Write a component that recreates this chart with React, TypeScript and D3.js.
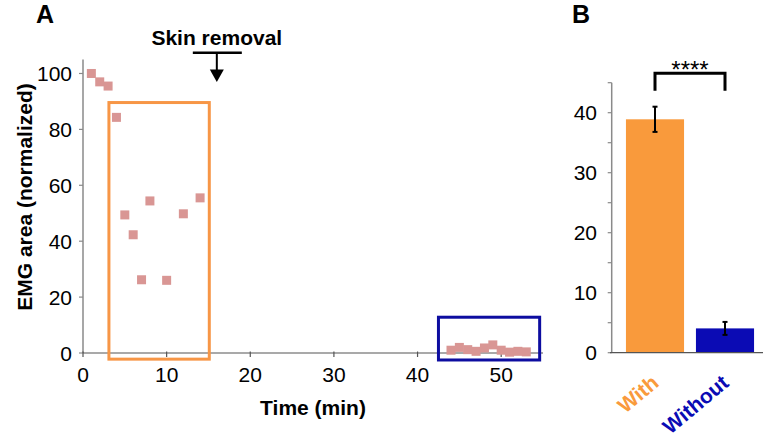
import React from "react";
import * as d3 from "d3";

const timeMin = [1, 2, 3, 4, 5, 6, 7, 8, 10, 12, 14, 44, 45, 46, 47, 48, 49, 50, 51, 52, 53];
const emgArea = [100, 97, 95.5, 84.3, 49.4, 42.3, 26.2, 54.4, 26, 49.8, 55.5, 1, 2, 1.2, 0.6, 1.8, 2.9, 1, 0.3, 0.6, 0.4];
const xTicksA = [0, 10, 20, 30, 40, 50];
const yTicksA = [0, 20, 40, 60, 80, 100];

const barCategories = ["With", "Without"];
const barMeans = [38.9, 4.05];
const barErrors = [2.1, 1.08];
const barColors = ["#F99A3C", "#0B0BB4"];
const yTicksB = [0, 10, 20, 30, 40];
const yMinorB = [0, 5, 10, 15, 20, 25, 30, 35, 40, 45];

const skinRemovalTime = 16;
const withWindow = { t0: 3.1, t1: 15.1, v0: -2.2, v1: 89.6 };
const withoutWindow = { t0: 42.5, t1: 54.6, v0: -2.5, v1: 12.8 };

const FONT = "'Liberation Sans', Arial, sans-serif";

export default function App() {
  const xA = d3.scaleLinear().domain([0, 55]).range([83, 543]);
  const yA = d3.scaleLinear().domain([0, 105]).range([353, 59.5]);
  const xB = d3
    .scaleBand<string>()
    .domain(barCategories)
    .range([620, 760])
    .paddingInner(0.17)
    .paddingOuter(0.085);
  const yB = d3.scaleLinear().domain([0, 45]).range([352.7, 82.7]);
  const sq = 9;
  const sx = xA(skinRemovalTime);

  return (
    <svg width={769} height={440} style={{ position: "absolute", left: 0, top: 0, background: "#fff" }} fontFamily={FONT}>
      <rect x={0} y={0} width={769} height={440} fill="#fff" />
      {/* Panel A */}
      <text x={36} y={23} fontSize={25} fontWeight="bold">A</text>
      {/* axes */}
      <line x1={xA(0)} x2={xA(0)} y1={yA(105)} y2={yA(0)} stroke="#8a8a8a" strokeWidth={1.5} />
      <line x1={xA(0)} x2={xA(55)} y1={yA(0)} y2={yA(0)} stroke="#555" strokeWidth={1.2} />
      {yTicksA.map((t) => (
        <g key={"ya" + t}>
          <line x1={xA(0) - 4} x2={xA(0)} y1={yA(t)} y2={yA(t)} stroke="#8a8a8a" strokeWidth={1.2} />
          <text x={72} y={yA(t)} dy="0.36em" textAnchor="end" fontSize={21}>{t}</text>
        </g>
      ))}
      {xTicksA.map((t) => (
        <g key={"xa" + t}>
          <line x1={xA(t)} x2={xA(t)} y1={yA(0) - 1.5} y2={yA(0) + 4} stroke="#555" strokeWidth={1.2} />
          <text x={xA(t)} y={382} textAnchor="middle" fontSize={21}>{t}</text>
        </g>
      ))}
      <text x={(xA(0) + xA(55)) / 2} y={415} textAnchor="middle" fontSize={21} fontWeight="bold">Time (min)</text>
      <text
        transform={`translate(31.5, ${197}) rotate(-90)`}
        textAnchor="middle"
        fontSize={21}
        fontWeight="bold"
      >
        EMG area (normalized)
      </text>
      {/* points */}
      {timeMin.map((t, i) => (
        <rect key={"p" + i} x={xA(t) - sq / 2} y={yA(emgArea[i]) - sq / 2} width={sq} height={sq} fill="#D99694" />
      ))}
      {/* windows */}
      <rect
        x={xA(withWindow.t0)}
        y={yA(withWindow.v1)}
        width={xA(withWindow.t1) - xA(withWindow.t0)}
        height={yA(withWindow.v0) - yA(withWindow.v1)}
        fill="none"
        stroke="#F79646"
        strokeWidth={3}
      />
      <rect
        x={xA(withoutWindow.t0)}
        y={yA(withoutWindow.v1)}
        width={xA(withoutWindow.t1) - xA(withoutWindow.t0)}
        height={yA(withoutWindow.v0) - yA(withoutWindow.v1)}
        fill="none"
        stroke="#0D0DA0"
        strokeWidth={3}
      />
      {/* skin removal annotation */}
      <text x={sx} y={45} textAnchor="middle" fontSize={21} fontWeight="bold">Skin removal</text>
      <line x1={sx - 24} x2={sx + 25} y1={52.7} y2={52.7} stroke="#000" strokeWidth={2.5} />
      <line x1={sx} x2={sx} y1={52.7} y2={71} stroke="#000" strokeWidth={2} />
      <path d={`M${sx - 7},69.5 L${sx + 7},69.5 L${sx},82 Z`} fill="#000" />

      {/* Panel B */}
      <text x={572} y={23} fontSize={25} fontWeight="bold">B</text>
      <line x1={611.7} x2={611.7} y1={yB(45)} y2={yB(0)} stroke="#8a8a8a" strokeWidth={1.5} />
      {yMinorB.map((t) => (
        <line key={"mb" + t} x1={607.7} x2={611.7} y1={yB(t)} y2={yB(t)} stroke="#8a8a8a" strokeWidth={1.2} />
      ))}
      {yTicksB.map((t) => (
        <text key={"yb" + t} x={597} y={yB(t)} dy="0.36em" textAnchor="end" fontSize={21}>{t}</text>
      ))}
      {barCategories.map((c, i) => {
        const x0 = xB(c) as number;
        const cx = x0 + xB.bandwidth() / 2;
        return (
          <g key={"bar" + c}>
            <rect x={x0} y={yB(barMeans[i])} width={xB.bandwidth()} height={yB(0) - yB(barMeans[i])} fill={barColors[i]} />
            <line x1={cx} x2={cx} y1={yB(barMeans[i] + barErrors[i])} y2={yB(barMeans[i] - barErrors[i])} stroke="#000" strokeWidth={2} />
            <line x1={cx - 2.5} x2={cx + 2.5} y1={yB(barMeans[i] + barErrors[i])} y2={yB(barMeans[i] + barErrors[i])} stroke="#000" strokeWidth={2} />
            <line x1={cx - 2.5} x2={cx + 2.5} y1={yB(barMeans[i] - barErrors[i])} y2={yB(barMeans[i] - barErrors[i])} stroke="#000" strokeWidth={2} />
            <text
              transform={`translate(${cx + 5}, 385) rotate(-40)`}
              textAnchor="end"
              fontSize={21}
              fontWeight="bold"
              fill={barColors[i]}
            >
              {c}
            </text>
          </g>
        );
      })}
      <line x1={610} x2={763} y1={yB(0)} y2={yB(0)} stroke="#555" strokeWidth={1.2} />
      {/* significance bracket */}
      {(() => {
        const c1 = (xB("With") as number) + xB.bandwidth() / 2;
        const c2 = (xB("Without") as number) + xB.bandwidth() / 2;
        return (
          <g>
            <path d={`M${c1},90.7 L${c1},73.3 L${c2},73.3 L${c2},90.7`} fill="none" stroke="#000" strokeWidth={3} />
            <text x={(c1 + c2) / 2} y={78} textAnchor="middle" fontSize={24}>****</text>
          </g>
        );
      })()}
    </svg>
  );
}
